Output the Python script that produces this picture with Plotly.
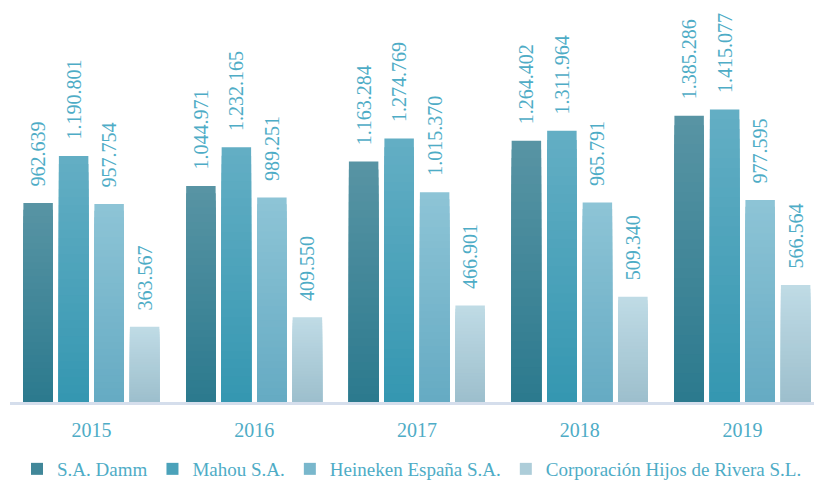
import plotly.graph_objects as go

years = ['2015', '2016', '2017', '2018', '2019']
companies = ['S.A. Damm', 'Mahou S.A.', 'Heineken España S.A.', 'Corporación Hijos de Rivera S.L.']
damm = [962639, 1044971, 1163284, 1264402, 1385286]
mahou = [1190801, 1232165, 1274769, 1311964, 1415077]
heineken = [957754, 989251, 1015370, 965791, 977595]
rivera = [363567, 409550, 466901, 509340, 566564]
values = [damm, mahou, heineken, rivera]

# colores arriba / abajo del degradado de cada barra
top_cols = ['#5894a4', '#63aec4', '#8dc4d6', '#bfdbe5']
bot_cols = ['#2c7a8e', '#3597b1', '#66abc3', '#9dbfcd']
label_col = '#4eacc6'

N = 30  # capas para simular el degradado
LABEL_PAD = 65000  # hueco entre barra y etiqueta


def hex2rgb(h):
    h = h.lstrip('#')
    return [int(h[i:i + 2], 16) for i in (0, 2, 4)]


def mix(c1, c2, t):
    a, b = hex2rgb(c1), hex2rgb(c2)
    return 'rgb({},{},{})'.format(*[round(a[i] + (b[i] - a[i]) * t) for i in range(3)])


def fmt(v):
    return '{:,}'.format(v).replace(',', '.')


fig = go.Figure()
for ci, (name, vals) in enumerate(zip(companies, values)):
    # barras superpuestas desde 0, de la mas alta (color de arriba) a la mas baja
    for k in range(N):
        frac = 1 - k / N
        t = k / (N - 1)
        fig.add_trace(go.Bar(
            x=years,
            y=[v * frac for v in vals],
            offsetgroup=str(ci),
            name=name,
            legendgroup=name,
            showlegend=(k == N // 2),
            marker=dict(color=mix(top_cols[ci], bot_cols[ci], t), line=dict(width=0)),
            hoverinfo='skip',
        ))
    # etiquetas
    fig.add_trace(go.Bar(
        x=years,
        y=[LABEL_PAD] * len(vals),
        base=vals,
        offsetgroup=str(ci),
        showlegend=False,
        marker=dict(color='rgba(0,0,0,0)', line=dict(width=0)),
        text=[fmt(v) for v in vals],
        textposition='outside',
        textangle=-90,
        constraintext='none',
        cliponaxis=False,
        textfont=dict(color=label_col, size=20, family='Liberation Serif, Times New Roman, serif'),
        hoverinfo='skip',
    ))

fig.update_layout(
    width=814, height=488,
    barmode='group',
    bargap=0.1275,
    bargroupgap=0.17,
    plot_bgcolor='white',
    paper_bgcolor='white',
    margin=dict(l=10, r=0, t=0, b=86),
    font=dict(family='Liberation Serif, Times New Roman, serif', color=label_col, size=20),
    legend=dict(orientation='h', x=0.5, xanchor='center', yref='container', y=-0.015, yanchor='bottom',
                font=dict(size=19, color=label_col), itemwidth=30, tracegroupgap=0),
    xaxis=dict(type='category', range=[-0.5, 4.44], showline=True, linecolor='#d5deec', linewidth=3,
               ticks='', tickfont=dict(size=20, color=label_col), showgrid=False,
               ticklabelstandoff=8),
    yaxis=dict(range=[0, 1945000], visible=False, showgrid=False),
)

fig.write_html('out.html', config={'displayModeBar': False},
               post_script="document.body.style.margin='0';")
